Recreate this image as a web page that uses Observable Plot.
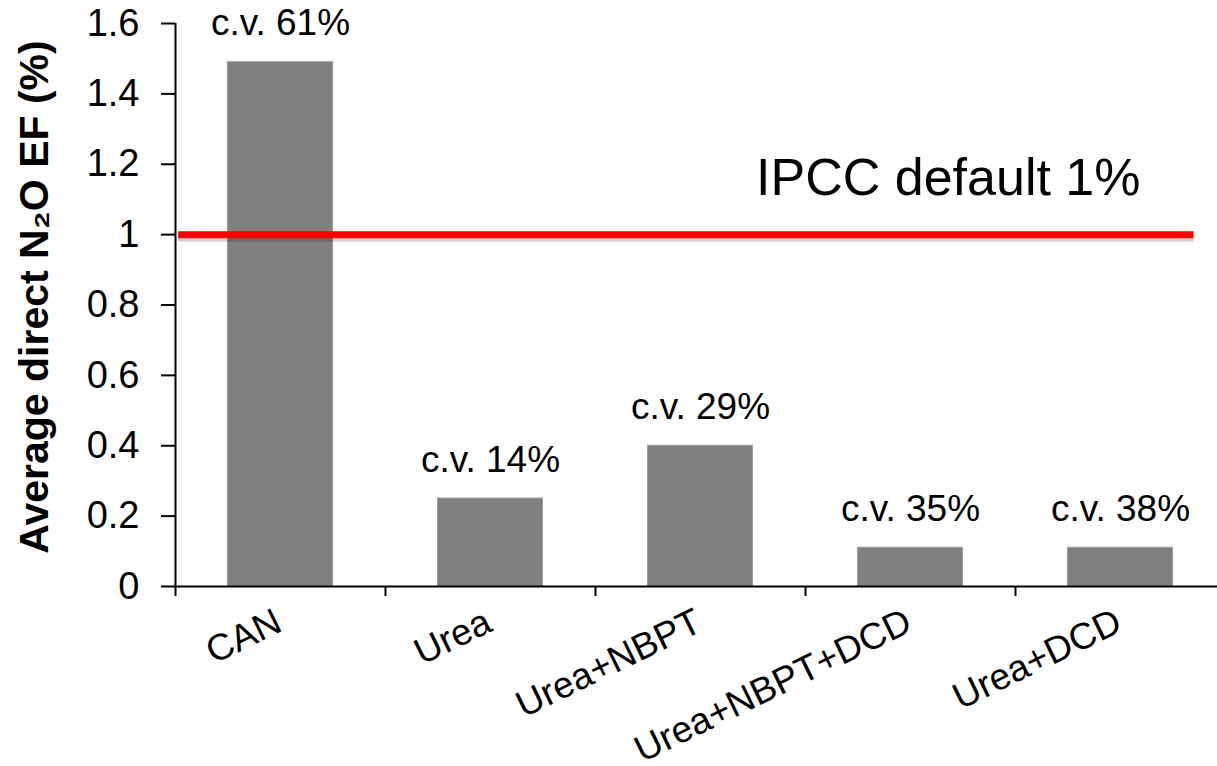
<!DOCTYPE html>
<html>
<head>
<meta charset="utf-8">
<script src="https://cdn.jsdelivr.net/npm/d3@7"></script>
<script src="https://cdn.jsdelivr.net/npm/@observablehq/plot@0.6"></script>
<style>
  html, body { margin: 0; padding: 0; background: #fff; overflow: hidden; }
  #chart svg { display: block; }
</style>
</head>
<body>
<div id="chart"></div>
<script>
// Fertiliser treatments and their average direct N2O emission factors (%)
const treatments = ["CAN", "Urea", "Urea+NBPT", "Urea+NBPT+DCD", "Urea+DCD"];
const emissionFactor = [1.49, 0.25, 0.40, 0.11, 0.11];
const cvLabels = ["c.v. 61%", "c.v. 14%", "c.v. 29%", "c.v. 35%", "c.v. 38%"];

// Y axis ticks and their printed labels
const yTicks = [0, 0.2, 0.4, 0.6, 0.8, 1, 1.2, 1.4, 1.6];
const yTickLabels = ["0", "0.2", "0.4", "0.6", "0.8", "1", "1.2", "1.4", "1.6"];

// IPCC default emission factor (%)
const ipccDefault = 1;
const ipccLabel = "IPCC default 1%";
const yTitle = "Average direct N\u2082O EF (%)";

const rows = treatments.map((t, i) => ({
  treatment: t,
  index: i,
  value: emissionFactor[i],
  cv: cvLabels[i]
}));

const font = "'Liberation Sans', Arial, Helvetica, sans-serif";

const chart = Plot.plot({
  width: 1217,
  height: 766,
  marginLeft: 175,
  marginRight: 0,
  marginTop: 23,
  marginBottom: 180,
  style: { fontFamily: font, background: "#fff", color: "#000", overflow: "hidden" },
  // each treatment occupies one unit-wide slot; the bar fills the middle half
  x: { type: "linear", domain: [0, 5], range: [175, 1225] },
  y: { domain: [0, 1.6] },
  marks: [
    Plot.rectY(rows, {
      x1: d => d.index + 0.25,
      x2: d => d.index + 0.75,
      y1: 0,
      y2: "value",
      fill: "#808080",
      stroke: "#9a9a9a",
      strokeWidth: 1
    }),
    // value axis
    Plot.ruleX([0], { y1: 0, y2: 1.6, stroke: "#000", strokeWidth: 2 }),
    Plot.axisY({
      ticks: yTicks,
      tickSize: 14,
      tickPadding: 22,
      strokeWidth: 2,
      fontSize: 38,
      tickFormat: d => yTickLabels[yTicks.indexOf(d)],
      label: null
    }),
    // category axis with tick marks between the categories
    Plot.ruleY([0], { stroke: "#000", strokeWidth: 2 }),
    Plot.axisX({
      ticks: [0, 1, 2, 3, 4],
      tickSize: 10,
      strokeWidth: 2,
      tickFormat: () => "",
      label: null
    }),
    Plot.text(rows, {
      x: d => d.index + 0.5,
      y: 0,
      text: "treatment",
      rotate: -26,
      textAnchor: "end",
      lineAnchor: "top",
      dx: -8,
      dy: 20,
      fontSize: 37,
      fill: "#000"
    }),
    // coefficient of variation above each bar
    Plot.text(rows, {
      x: d => d.index + 0.5,
      y: "value",
      text: "cv",
      lineAnchor: "bottom",
      dy: -27,
      fontSize: 37,
      fill: "#000"
    }),
    // IPCC default reference line with its soft shadow
    Plot.ruleY([ipccDefault], { x1: 0.015, x2: 4.85, stroke: "#000", strokeOpacity: 0.18, strokeWidth: 6, dy: 4 }),
    Plot.ruleY([ipccDefault], { x1: 0.015, x2: 4.85, stroke: "#ff0000", strokeWidth: 7 }),
    Plot.text([ipccLabel], {
      x: 3.68,
      y: ipccDefault,
      text: d => d,
      lineAnchor: "bottom",
      dy: -40,
      fontSize: 52,
      fill: "#000"
    }),
    // y axis title
    Plot.text([yTitle], {
      frameAnchor: "left",
      text: d => d,
      rotate: -90,
      textAnchor: "middle",
      lineAnchor: "bottom",
      dx: -128,
      dy: -8,
      fontSize: 41,
      fontWeight: "bold",
      fill: "#000"
    })
  ]
});

document.getElementById("chart").appendChild(chart);
</script>
</body>
</html>
